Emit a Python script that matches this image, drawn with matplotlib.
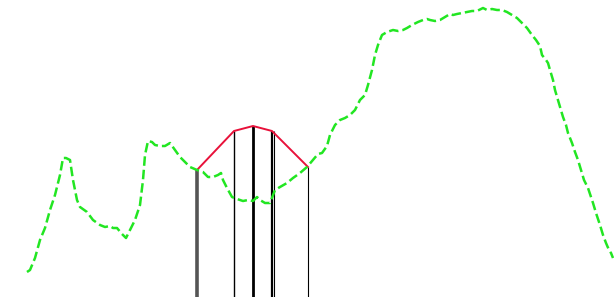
import matplotlib
matplotlib.use("Agg")
import matplotlib.pyplot as plt

# ── Data (screen units: x right, y down) ──────────────────────────────────────

curve_x = [27, 30, 35, 40, 45, 50, 55, 60, 63, 66, 70, 73, 77, 80, 87, 93, 100,
           105, 110, 113, 117, 122, 126, 130, 135, 140, 143, 145, 148, 152, 155,
           160, 165, 170, 175, 180, 185, 190, 197, 203, 208, 213, 218, 221, 223,
           227, 232, 237, 243, 248, 253, 257, 260, 265, 270, 275, 280, 287, 293,
           300, 307, 313, 318, 322, 327, 330, 335, 340, 345, 350, 355, 360, 365,
           368, 372, 375, 378, 382, 387, 393, 398, 403, 407, 412, 418, 423, 427,
           430, 435, 440, 445, 450, 453, 457, 462, 467, 472, 477, 483, 487, 492,
           497, 502, 507, 512, 517, 522, 527, 532, 536, 540, 542, 546, 548, 550,
           553, 555, 558, 560, 563, 566, 568, 572, 575, 578, 581, 584, 588, 591,
           593, 596, 600, 603, 606, 609, 611, 613]
curve_y = [272, 270, 258, 240, 228, 210, 195, 175, 158, 158, 160, 180, 200, 207,
           212, 220, 225, 227, 226, 228, 228, 234, 238, 230, 220, 205, 180, 155,
           141, 142, 145, 146, 146, 143, 150, 157, 162, 167, 170, 172, 177, 177,
           175, 173, 180, 188, 197, 199, 201, 200, 201, 197, 200, 203, 203, 190,
           187, 183, 178, 173, 167, 160, 154, 153, 146, 135, 125, 120, 118, 115,
           110, 100, 95, 85, 70, 55, 45, 35, 32, 30, 31, 30, 28, 25, 22, 20, 19,
           20, 21, 20, 17, 14, 15, 14, 13, 12, 11, 11, 8, 10, 9, 10, 10, 12, 15,
           18, 23, 28, 35, 40, 46, 55, 60, 63, 70, 80, 90, 100, 107, 117, 125,
           133, 143, 152, 160, 170, 180, 188, 197, 203, 213, 225, 235, 243, 250,
           253, 258]

peak_x = [197, 234, 253, 272, 308]
peak_y = [170, 131, 126, 131, 167]

bar_x = [197, 234, 253, 272, 274, 308]
bar_top = [170, 131, 126, 131, 131, 167]
bar_width = [2.6, 1.0, 2.0, 1.6, 0.8, 0.8]
bar_color = ["#555555", "black", "black", "black", "black", "black"]

# ── Plot ──────────────────────────────────────────────────────────────────────

fig = plt.figure(figsize=(6.14, 2.97), dpi=100)
ax = fig.add_axes([0, 0, 1, 1])

for x, top, w, c in zip(bar_x, bar_top, bar_width, bar_color):
    ax.plot([x, x], [297, top], color=c, lw=w, solid_capstyle="butt")

ax.plot(peak_x, peak_y, color="#e8113a", lw=1.4)

ax.plot(curve_x, curve_y, color="#22e622", lw=1.8, dashes=(3.8, 1.6))

ax.set_xlim(0, 614)
ax.set_ylim(297, 0)
ax.axis("off")

fig.savefig("out.png", dpi=100)
